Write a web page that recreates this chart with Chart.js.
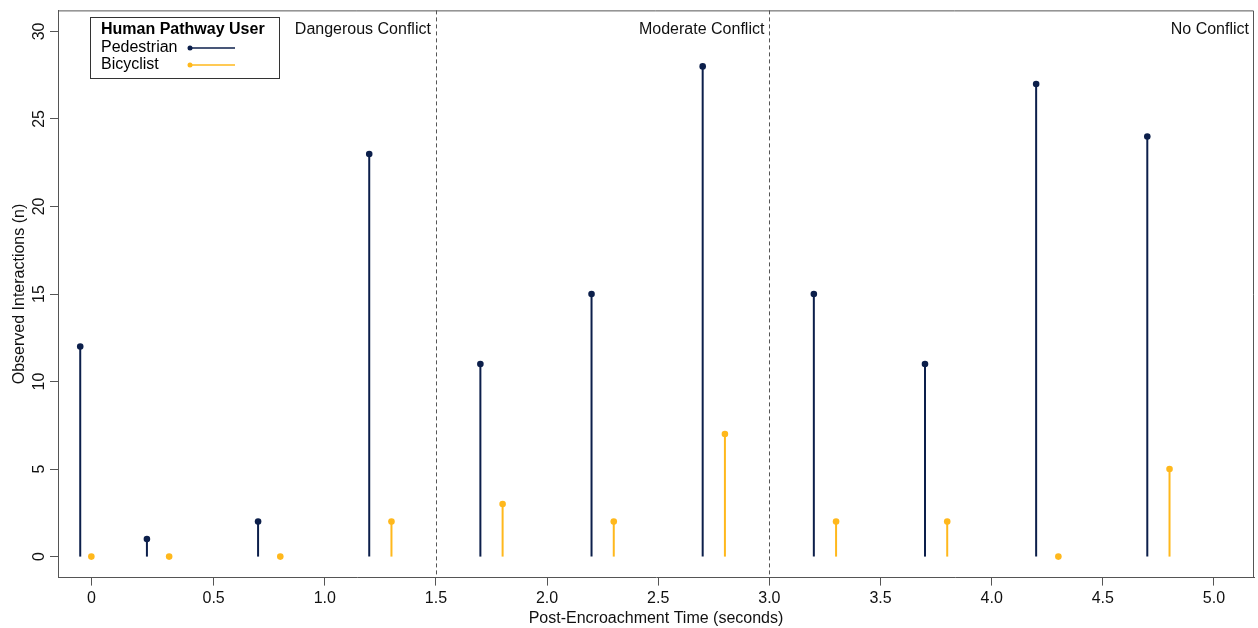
<!DOCTYPE html>
<html>
<head>
<meta charset="utf-8">
<script src="https://cdn.jsdelivr.net/npm/chart.js@4.4.1/dist/chart.umd.min.js"></script>
<style>
  html, body { margin: 0; padding: 0; background: #fff; }
  #wrap { width: 1258px; height: 628px; }
</style>
</head>
<body>
<div id="wrap"><canvas id="myChart"></canvas></div>
<script>
// Post-encroachment time positions and counts
const pedTimes = [-0.1, 0.2, 0.7, 1.2, 1.7, 2.2, 2.7, 3.2, 3.7, 4.2, 4.7];
const pedCounts = [12, 1, 2, 23, 11, 15, 28, 15, 11, 27, 24];
const bikeTimes = [-0.05, 0.3, 0.8, 1.3, 1.8, 2.3, 2.8, 3.3, 3.8, 4.3, 4.8];
const bikeCounts = [0, 0, 0, 2, 3, 2, 7, 2, 2, 0, 5];

const xTickValues = [-0.05, 0.5, 1.0, 1.5, 2.0, 2.5, 3.0, 3.5, 4.0, 4.5, 5.0];
const xTickLabels = ['0', '0.5', '1.0', '1.5', '2.0', '2.5', '3.0', '3.5', '4.0', '4.5', '5.0'];
const yTickValues = [0, 5, 10, 15, 20, 25, 30];

const zoneBreaks = [1.5, 3.0];
const zoneLabels = ['Dangerous Conflict', 'Moderate Conflict', 'No Conflict'];

const legendTitle = 'Human Pathway User';
const seriesNames = ['Pedestrian', 'Bicyclist'];

const NAVY = '#0c1f4b';
const GOLD = '#ffb81c';
const FONT = '"Liberation Sans", Arial, sans-serif';

// stems from zero up to each point, plus zone lines, labels, legend
const stemPlugin = {
    id: 'stems',
    beforeDatasetsDraw(chart) {
        const ctx = chart.ctx;
        const xs = chart.scales.x, ys = chart.scales.y;
        const area = chart.chartArea;

        // zone dividers
        ctx.save();
        ctx.strokeStyle = '#555';
        ctx.lineWidth = 1;
        ctx.setLineDash([4, 3]);
        zoneBreaks.forEach(b => {
            const px = Math.round(xs.getPixelForValue(b)) + 0.5;
            ctx.beginPath();
            ctx.moveTo(px, area.top);
            ctx.lineTo(px, area.bottom);
            ctx.stroke();
        });
        ctx.restore();

        chart.data.datasets.forEach(ds => {
            ctx.save();
            ctx.strokeStyle = ds.borderColor;
            ctx.lineWidth = 2;
            ds.data.forEach(p => {
                if (p.y <= 0) return;
                const px = xs.getPixelForValue(p.x);
                ctx.beginPath();
                ctx.moveTo(px, ys.getPixelForValue(0));
                ctx.lineTo(px, ys.getPixelForValue(p.y));
                ctx.stroke();
            });
            ctx.restore();
        });
    },
    afterDraw(chart) {
        const ctx = chart.ctx;
        const xs = chart.scales.x, ys = chart.scales.y;
        const area = chart.chartArea;

        // frame top and right
        ctx.save();
        ctx.strokeStyle = '#555';
        ctx.lineWidth = 1;
        ctx.beginPath();
        ctx.moveTo(area.left, area.top + 0.5);
        ctx.lineTo(area.right - 0.5, area.top + 0.5);
        ctx.lineTo(area.right - 0.5, area.bottom);
        ctx.stroke();
        ctx.restore();

        // y tick labels, rotated and centred on their ticks
        ctx.save();
        ctx.fillStyle = '#111';
        ctx.font = '16px ' + FONT;
        ctx.textAlign = 'center';
        ctx.textBaseline = 'middle';
        ys.ticks.forEach(t => {
            const py = ys.getPixelForValue(t.value);
            ctx.save();
            ctx.translate(area.left - 18, py);
            ctx.rotate(-Math.PI / 2);
            ctx.fillText(String(t.value), 0, 0);
            ctx.restore();
        });
        ctx.restore();

        // zone labels
        ctx.save();
        ctx.fillStyle = '#111';
        ctx.font = '16px ' + FONT;
        ctx.textAlign = 'right';
        ctx.textBaseline = 'middle';
        const rights = zoneBreaks.map(b => xs.getPixelForValue(b)).concat([area.right]);
        zoneLabels.forEach((t, i) => {
            ctx.fillText(t, rights[i] - 5, 30);
        });
        ctx.restore();

        // legend box
        ctx.save();
        const bx = 90.5, by = 17.5, bw = 189, bh = 61;
        ctx.strokeStyle = '#333';
        ctx.lineWidth = 1;
        ctx.fillStyle = '#fff';
        ctx.fillRect(bx, by, bw, bh);
        ctx.strokeRect(bx, by, bw, bh);
        ctx.fillStyle = '#000';
        ctx.textBaseline = 'middle';
        ctx.textAlign = 'left';
        ctx.font = 'bold 16px ' + FONT;
        ctx.fillText(legendTitle, 101, 30);
        ctx.font = '16px ' + FONT;
        const cols = [NAVY, GOLD];
        seriesNames.forEach((n, i) => {
            const yy = 48 + i * 17;
            ctx.fillStyle = '#000';
            ctx.fillText(n, 101, yy);
            ctx.strokeStyle = cols[i];
            ctx.lineWidth = 1.5;
            ctx.beginPath();
            ctx.moveTo(190, yy);
            ctx.lineTo(235, yy);
            ctx.stroke();
            ctx.fillStyle = cols[i];
            ctx.beginPath();
            ctx.arc(190, yy, 2.5, 0, Math.PI * 2);
            ctx.fill();
        });
        ctx.restore();
    }
};

const toPoints = (xv, yv) => xv.map((x, i) => ({ x: x, y: yv[i] }));

new Chart(document.getElementById('myChart'), {
    type: 'scatter',
    data: {
        datasets: [{
            label: seriesNames[0],
            data: toPoints(pedTimes, pedCounts),
            backgroundColor: NAVY,
            borderColor: NAVY,
            pointRadius: 3.3,
            pointBorderWidth: 0
        }, {
            label: seriesNames[1],
            data: toPoints(bikeTimes, bikeCounts),
            backgroundColor: GOLD,
            borderColor: GOLD,
            pointRadius: 3.3,
            pointBorderWidth: 0
        }]
    },
    options: {
        responsive: true,
        maintainAspectRatio: false,
        animation: false,
        layout: { padding: { top: 5, right: 0, left: 10, bottom: 0 } },
        plugins: {
            legend: { display: false },
            tooltip: { enabled: false }
        },
        scales: {
            x: {
                type: 'linear',
                min: -0.2,
                max: 5.18,
                afterBuildTicks: axis => { axis.ticks = xTickValues.map(v => ({ value: v })); },
                ticks: {
                    color: '#111',
                    font: { family: FONT, size: 16 },
                    padding: 3,
                    maxRotation: 0,
                    autoSkip: false,
                    callback: (v, i) => xTickLabels[i]
                },
                grid: { drawOnChartArea: false, drawTicks: true, tickLength: 8, color: '#555' },
                border: { display: true, color: '#555' },
                title: {
                    display: true,
                    text: 'Post-Encroachment Time (seconds)',
                    color: '#111',
                    font: { family: FONT, size: 16 },
                    padding: { top: -2, bottom: 0 }
                }
            },
            y: {
                min: -1.2,
                max: 31.2,
                afterBuildTicks: axis => { axis.ticks = yTickValues.map(v => ({ value: v })); },
                ticks: {
                    color: 'rgba(0,0,0,0)',
                    font: { family: FONT, size: 14 },
                    padding: 2,
                    minRotation: 90,
                    maxRotation: 90,
                    autoSkip: false
                },
                grid: { drawOnChartArea: false, drawTicks: true, tickLength: 8, color: '#555' },
                border: { display: true, color: '#555' },
                title: {
                    display: true,
                    text: 'Observed Interactions (n)',
                    color: '#111',
                    font: { family: FONT, size: 16 },
                    padding: { top: 0, bottom: 0 }
                }
            }
        }
    },
    plugins: [stemPlugin]
});
</script>
</body>
</html>
